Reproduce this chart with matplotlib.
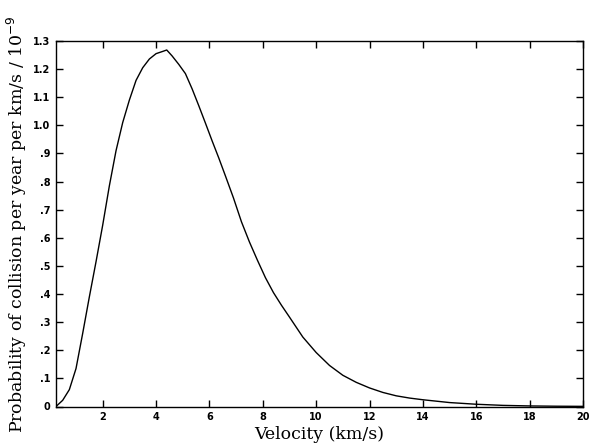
import matplotlib
matplotlib.use("Agg")
import matplotlib.pyplot as plt

# velocity (km/s) and collision probability (per year per km/s, units of 1e-9)
velocity = [0.25, 0.5, 0.75, 1.0, 1.25, 1.5, 1.75, 2.0, 2.25, 2.5, 2.75, 3.0,
            3.25, 3.5, 3.75, 4.0, 4.25, 4.4, 4.6, 4.85, 5.1, 5.35, 5.6, 5.85,
            6.1, 6.35, 6.6, 6.9, 7.2, 7.5, 7.8, 8.1, 8.4, 8.7, 9.0, 9.5, 10.0,
            10.5, 11.0, 11.5, 12.0, 12.5, 13.0, 13.5, 14.0, 15.0, 16.0, 17.0,
            18.0, 19.0, 20.0]
probability = [0.0, 0.022, 0.06, 0.135, 0.26, 0.39, 0.515, 0.645, 0.785, 0.91,
               1.01, 1.09, 1.16, 1.205, 1.236, 1.255, 1.263, 1.268, 1.247,
               1.217, 1.184, 1.13, 1.07, 1.008, 0.945, 0.884, 0.82, 0.742,
               0.657, 0.585, 0.52, 0.458, 0.405, 0.36, 0.318, 0.247, 0.192,
               0.146, 0.111, 0.086, 0.066, 0.05, 0.038, 0.03, 0.024, 0.014,
               0.008, 0.004, 0.002, 0.001, 0.0005]

x_ticks = [2, 4, 6, 8, 10, 12, 14, 16, 18, 20]
y_ticks = [0, 0.1, 0.2, 0.3, 0.4, 0.5, 0.6, 0.7, 0.8, 0.9, 1.0, 1.1, 1.2, 1.3]
y_tick_labels = ["0", ".1", ".2", ".3", ".4", ".5", ".6", ".7", ".8", ".9",
                 "1.0", "1.1", "1.2", "1.3"]

fig = plt.figure(figsize=(5.9, 4.46), dpi=100)
ax = fig.add_axes([56 / 590, 1 - 406.5 / 446, 527 / 590, 365.5 / 446])
ax.plot(velocity, probability, color="black", linewidth=1.0)

ax.set_xlim(0.25, 20)
ax.set_ylim(0, 1.3)
ax.set_xticks(x_ticks)
ax.set_xticklabels([str(t) for t in x_ticks])
ax.set_yticks(y_ticks)
ax.set_yticklabels(y_tick_labels)
ax.tick_params(direction="in", top=True, right=True, length=5, width=1,
               labelsize=7, pad=4)
for lab in ax.get_xticklabels() + ax.get_yticklabels():
    lab.set_fontweight("bold")
    lab.set_family("DejaVu Sans")
for s in ax.spines.values():
    s.set_linewidth(1.0)

ax.set_xlabel("Velocity (km/s)", family="DejaVu Serif", fontsize=12.5, labelpad=3)
ax.set_ylabel("Probability of collision per year per km/s / 10$^{-9}$",
              family="DejaVu Serif", fontsize=12.5, labelpad=3)

fig.savefig("out.png", dpi=100)
